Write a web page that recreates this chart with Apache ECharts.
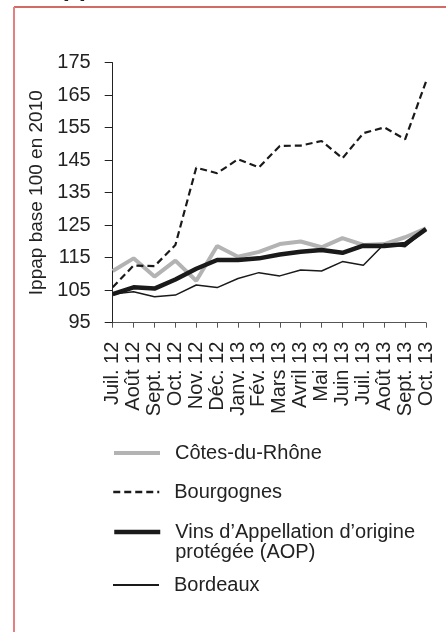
<!DOCTYPE html>
<html>
<head>
<meta charset="utf-8">
<script src="https://cdn.jsdelivr.net/npm/echarts@6/dist/echarts.min.js"></script>
<style>
  html, body { margin: 0; padding: 0; background: #fff; }
  #main { width: 446px; height: 632px; }
</style>
</head>
<body>
<div id="main"></div>
<script>
// mois (juillet 2012 - octobre 2013)
const months = ['Juil. 12', 'Août 12', 'Sept. 12', 'Oct. 12', 'Nov. 12', 'Déc. 12',
  'Janv. 13', 'Fév. 13', 'Mars 13', 'Avril 13', 'Mai 13', 'Juin 13',
  'Juil. 13', 'Août 13', 'Sept. 13', 'Oct. 13'];

const cotesDuRhone = [110.9, 114.8, 109.2, 114.1, 107.9, 118.6, 115.3, 116.8,
  119.2, 120.0, 118.2, 121.0, 118.9, 119.2, 121.3, 124.0];
const bourgognes = [105.9, 112.6, 112.4, 118.9, 142.7, 141.0, 145.3, 142.8,
  149.4, 149.5, 150.9, 145.6, 153.3, 155.1, 151.4, 169.2];
const aop = [103.8, 105.9, 105.5, 108.3, 111.6, 114.3, 114.3, 114.8,
  116.0, 116.8, 117.4, 116.5, 118.7, 118.6, 119.2, 123.8];
const bordeaux = [103.8, 104.5, 103.0, 103.5, 106.6, 105.8, 108.6, 110.4,
  109.4, 111.2, 110.9, 113.8, 112.7, 119.2, 118.4, 123.8];

const yTicks = [95, 105, 115, 125, 135, 145, 155, 165, 175];

const names = ['Côtes-du-Rhône', 'Bourgognes', 'Vins d\u2019Appellation d\u2019origine\nprotégée (AOP)', 'Bordeaux'];

let myChart = echarts.init(document.getElementById('main'));

const font = 'Liberation Sans, Arial, Helvetica, sans-serif';

// une légende par série pour placer chaque entrée comme sur l'original
function legendItem(name, top, lineWidth, formatter) {
  return {
    data: [name],
    left: 112,
    top: top,
    padding: 0,
    itemWidth: 46,
    itemHeight: 14,
    selectedMode: false,
    formatter: formatter,
    itemStyle: { opacity: 0 },
    lineStyle: { width: lineWidth },
    textStyle: { fontFamily: font, fontSize: 20, color: '#222', lineHeight: 20, padding: [0, 0, 0, 10] }
  };
}

let option = {
  animation: false,
  backgroundColor: '#fff',
  graphic: [
    { type: 'line', shape: { x1: 14, y1: 7, x2: 446, y2: 7 }, style: { stroke: '#c23a30', lineWidth: 1.5 } },
    { type: 'line', shape: { x1: 14, y1: 7, x2: 14, y2: 632 }, style: { stroke: '#e48080', lineWidth: 2 } },
    { type: 'text', left: 44, top: -24, style: { text: 'Appellation', font: 'bold 26px ' + font, fill: '#222' } }
  ],
  legend: [
    legendItem(names[0], 443, 4),
    legendItem(names[1], 482, 2.5),
    // ligne vide en tête : le trait reste au niveau de la première ligne
    legendItem(names[2], 502, 4.5, n => '\n' + n),
    legendItem(names[3], 575, 2)
  ],
  grid: { left: 112.7, right: 20, top: 62.7, bottom: 309.3, containLabel: false },
  xAxis: {
    type: 'category',
    data: months,
    boundaryGap: false,
    axisLine: { lineStyle: { color: '#555', width: 1 } },
    axisTick: { show: true, length: 5, lineStyle: { color: '#555' } },
    axisLabel: { rotate: 90, margin: 19, fontFamily: font, fontSize: 20, color: '#222', interval: 0 }
  },
  yAxis: {
    type: 'value',
    min: yTicks[0],
    max: yTicks[yTicks.length - 1],
    interval: 10,
    name: 'Ippap base 100 en 2010',
    nameLocation: 'middle',
    nameGap: 66,
    nameTextStyle: { fontFamily: font, fontSize: 19, color: '#222' },
    axisLine: { show: true, lineStyle: { color: '#222', width: 1 } },
    axisTick: { show: true, length: 8, lineStyle: { color: '#222' } },
    axisLabel: { margin: 22, fontFamily: font, fontSize: 20, color: '#222' },
    splitLine: { show: false }
  },
  series: [
    {
      name: names[0], type: 'line', data: cotesDuRhone, symbol: 'none',
      lineStyle: { color: '#b3b3b3', width: 4 }, itemStyle: { color: '#b3b3b3' }
    },
    {
      name: names[1], type: 'line', data: bourgognes, symbol: 'none',
      lineStyle: { color: '#1a1a1a', width: 2.2, type: [7, 4] }, itemStyle: { color: '#1a1a1a' }
    },
    {
      name: names[2], type: 'line', data: aop, symbol: 'none',
      lineStyle: { color: '#1a1a1a', width: 4.5 }, itemStyle: { color: '#1a1a1a' }
    },
    {
      name: names[3], type: 'line', data: bordeaux, symbol: 'none',
      lineStyle: { color: '#1a1a1a', width: 1.5 }, itemStyle: { color: '#1a1a1a' }
    }
  ]
};

myChart.setOption(option);
</script>
</body>
</html>
